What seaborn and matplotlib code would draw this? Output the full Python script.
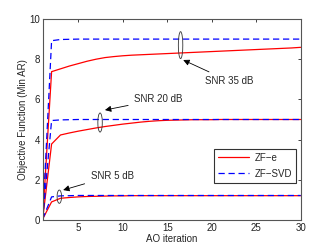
import numpy as np
import pandas as pd
import matplotlib
matplotlib.use("Agg")
import matplotlib.pyplot as plt
from matplotlib.patches import Ellipse
import seaborn as sns

iterations = list(range(1, 31))

zfe_35 = [0.05, 7.38, 7.52, 7.66, 7.78, 7.90, 8.00, 8.08, 8.13, 8.17,
          8.20, 8.22, 8.24, 8.26, 8.28, 8.30, 8.32, 8.34, 8.36, 8.38,
          8.40, 8.42, 8.44, 8.46, 8.48, 8.50, 8.52, 8.54, 8.56, 8.59]
svd_35 = [0.05, 8.92, 8.98, 8.99, 9.0, 9.0, 9.0, 9.0, 9.0, 9.0,
          9.0, 9.0, 9.0, 9.0, 9.0, 9.0, 9.0, 9.0, 9.0, 9.0,
          9.0, 9.0, 9.0, 9.0, 9.0, 9.0, 9.0, 9.0, 9.0, 9.0]
zfe_20 = [0.05, 3.78, 4.23, 4.33, 4.42, 4.50, 4.58, 4.65, 4.71, 4.77,
          4.82, 4.87, 4.91, 4.94, 4.96, 4.97, 4.98, 4.99, 4.99, 4.99,
          5.0, 5.0, 5.0, 5.0, 5.0, 5.0, 5.0, 5.0, 5.0, 5.0]
svd_20 = [0.05, 4.95, 4.98, 4.99, 5.0, 5.0, 5.0, 5.0, 5.0, 5.0,
          5.0, 5.0, 5.0, 5.0, 5.0, 5.0, 5.0, 5.0, 5.0, 5.0,
          5.0, 5.0, 5.0, 5.0, 5.0, 5.0, 5.0, 5.0, 5.0, 5.0]
zfe_5 = [0.05, 0.90, 1.08, 1.12, 1.15, 1.17, 1.18, 1.19, 1.20, 1.20,
         1.21, 1.21, 1.21, 1.21, 1.21, 1.21, 1.21, 1.21, 1.21, 1.21,
         1.21, 1.21, 1.21, 1.21, 1.21, 1.21, 1.21, 1.21, 1.21, 1.21]
svd_5 = [0.05, 1.15, 1.20, 1.21, 1.22, 1.22, 1.22, 1.22, 1.22, 1.22,
         1.22, 1.22, 1.22, 1.22, 1.22, 1.22, 1.22, 1.22, 1.22, 1.22,
         1.22, 1.22, 1.22, 1.22, 1.22, 1.22, 1.22, 1.22, 1.22, 1.22]

methods = ["ZF\u2212e", "ZF\u2212SVD"]
snr_labels = ["SNR 35 dB", "SNR 20 dB", "SNR 5 dB"]

series = {
    ("ZF\u2212e", "35"): zfe_35, ("ZF\u2212SVD", "35"): svd_35,
    ("ZF\u2212e", "20"): zfe_20, ("ZF\u2212SVD", "20"): svd_20,
    ("ZF\u2212e", "5"): zfe_5, ("ZF\u2212SVD", "5"): svd_5,
}
rows = []
for (m, s), vals in series.items():
    for it, v in zip(iterations, vals):
        rows.append({"iter": it, "val": v, "method": m, "snr": s})
df = pd.DataFrame(rows)

sns.set_style("white")
plt.rcParams["font.family"] = ["Liberation Sans", "DejaVu Sans"]
plt.rcParams["font.size"] = 7

fig = plt.figure(figsize=(3.32, 2.5), dpi=100)
ax = fig.add_axes([0.1286, 0.12, 0.777, 0.804])

sns.lineplot(data=df, x="iter", y="val", hue="method", style="method",
             units="snr", estimator=None, ax=ax,
             palette={"ZF\u2212e": "#ff0000", "ZF\u2212SVD": "#0000ff"},
             dashes={"ZF\u2212e": "", "ZF\u2212SVD": (5, 3)},
             linewidth=0.9, legend=True)

ax.set_xlim(1, 30)
ax.set_ylim(0, 10)
ax.set_xticks([5, 10, 15, 20, 25, 30])
ax.set_yticks([0, 2, 4, 6, 8, 10])
ax.set_xlabel("AO iteration", fontsize=7, labelpad=1)
ax.set_ylabel("Objective Function (Min AR)", fontsize=7, labelpad=1)
ax.tick_params(direction="in", length=2.5, width=0.6, top=True, right=True,
               labelsize=7, colors="#222222", pad=2)
for sp in ax.spines.values():
    sp.set_visible(True)
    sp.set_color("#555555")
    sp.set_linewidth(0.8)

# ellipses marking curve groups
for cx, cy, h in [(16.5, 8.7, 1.34), (7.45, 4.85, 0.95), (2.87, 1.16, 0.66)]:
    ax.add_patch(Ellipse((cx, cy), 0.5, h, fill=False, edgecolor="#333333",
                         linewidth=0.6, zorder=5))

ann = [("SNR 35 dB", (16.8, 7.96), (22.0, 6.9)),
       ("SNR 20 dB", (8.0, 5.47), (14.0, 6.0)),
       ("SNR 5 dB", (3.3, 1.49), (8.8, 2.2))]
for txt, tip, pos in ann:
    ax.annotate(txt, xy=tip, xytext=pos, fontsize=7, ha="center", va="center",
                arrowprops=dict(arrowstyle="-|>", color="black", lw=0.6,
                                mutation_scale=9, shrinkA=2, shrinkB=0))

h, l = ax.get_legend_handles_labels()
leg = ax.legend(h, l, loc="lower right", bbox_to_anchor=(0.982, 0.186),
                frameon=True, fancybox=False, edgecolor="black", fontsize=7,
                handlelength=3.2, borderpad=0.4, labelspacing=0.6,
                handletextpad=0.6, borderaxespad=0)
leg.get_frame().set_linewidth(0.8)

fig.savefig("out.png", dpi=100)
